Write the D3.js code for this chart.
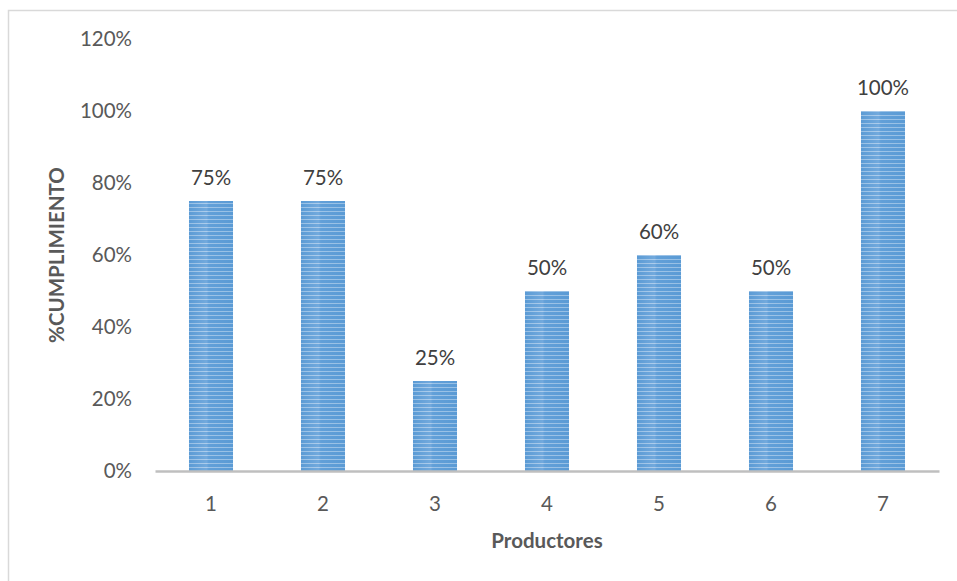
<!DOCTYPE html>
<html>
<head>
<meta charset="utf-8">
<script src="https://cdn.jsdelivr.net/npm/d3@7"></script>
<style>
  html, body { margin: 0; padding: 0; background: #fff; }
  svg { display: block; font-family: Lato, "Open Sans", sans-serif; }
</style>
</head>
<body>
<svg id="chart" width="957" height="581"></svg>
<script>
// Compliance percentage per producer
const categories = ["1", "2", "3", "4", "5", "6", "7"];
const values = [0.75, 0.75, 0.25, 0.50, 0.60, 0.50, 1.00];
const yTicks = [0, 0.2, 0.4, 0.6, 0.8, 1.0, 1.2];
const xTitle = "Productores";
const yTitle = "%CUMPLIMIENTO";

const FONT = "Lato, 'Open Sans', sans-serif";
const FS = "20.5px";

const svg = d3.select("#chart");
const margin = { left: 155, right: 18, top: 39, bottom: 110 };
const W = 957, H = 581;

// Chart frame
svg.append("path")
  .attr("d", "M8.5,581 V10.5 H957")
  .attr("fill", "none")
  .attr("stroke", "#d9d9d9")
  .attr("stroke-width", 1.5);

const x = d3.scaleBand()
  .domain(categories)
  .range([margin.left, W - margin.right])
  .paddingInner(0.607)
  .paddingOuter(0.3035);

const y = d3.scaleLinear()
  .domain([0, 1.2])
  .range([H - margin.bottom, margin.top]);

// Striped fill for bars
const defs = svg.append("defs");
const grad = defs.append("linearGradient")
  .attr("id", "barShade").attr("x1", 0).attr("x2", 1).attr("y1", 0).attr("y2", 0);
grad.append("stop").attr("offset", "0%").attr("stop-color", "#5b9bd5");
grad.append("stop").attr("offset", "40%").attr("stop-color", "#8fbbe6");
grad.append("stop").attr("offset", "45%").attr("stop-color", "#6aa5dc");
grad.append("stop").attr("offset", "100%").attr("stop-color", "#5b9bd5");

const pat = defs.append("pattern")
  .attr("id", "stripes")
  .attr("patternUnits", "userSpaceOnUse")
  .attr("width", 8).attr("height", 4);
pat.append("rect").attr("width", 8).attr("height", 4).attr("fill", "#5b9bd5");
pat.append("rect").attr("y", 3).attr("width", 8).attr("height", 1).attr("fill", "#c6dcf1");

const bars = svg.append("g");
bars.selectAll("rect.base")
  .data(values)
  .join("rect")
  .attr("class", "base")
  .attr("x", (d, i) => x(categories[i]))
  .attr("width", x.bandwidth())
  .attr("y", d => y(d))
  .attr("height", d => y(0) - y(d))
  .attr("fill", "url(#barShade)");
bars.selectAll("rect.stripe")
  .data(values)
  .join("rect")
  .attr("class", "stripe")
  .attr("x", (d, i) => x(categories[i]))
  .attr("width", x.bandwidth())
  .attr("y", d => y(d))
  .attr("height", d => y(0) - y(d))
  .attr("fill", "url(#stripes)")
  .attr("opacity", 0.55);

// Y axis labels
const yAxis = d3.axisLeft(y)
  .tickValues(yTicks)
  .tickFormat(d3.format(".0%"))
  .tickSize(0)
  .tickPadding(23);
const gy = svg.append("g")
  .attr("transform", `translate(${margin.left},0)`)
  .call(yAxis);
gy.select(".domain").remove();
gy.selectAll("text")
  .attr("fill", "#595959")
  .style("font-size", FS)
  .style("font-family", FONT);

// X axis
const xAxis = d3.axisBottom(x).tickSize(0).tickPadding(25);
const gx = svg.append("g")
  .attr("transform", `translate(0,${y(0)})`)
  .call(xAxis);
gx.select(".domain")
  .attr("stroke", "#bfbfbf")
  .attr("stroke-width", 2.5);
gx.selectAll("text")
  .attr("fill", "#595959")
  .style("font-size", FS)
  .style("font-family", FONT);

// Value labels
svg.append("g").selectAll("text")
  .data(values)
  .join("text")
  .attr("x", (d, i) => x(categories[i]) + x.bandwidth() / 2)
  .attr("y", d => y(d) - 16)
  .attr("text-anchor", "middle")
  .attr("fill", "#404040")
  .style("font-size", FS)
  .text(d => d3.format(".0%")(d));

// Axis titles
svg.append("text")
  .attr("x", (margin.left + W - margin.right) / 2)
  .attr("y", 548)
  .attr("text-anchor", "middle")
  .attr("fill", "#595959")
  .style("font-size", FS)
  .style("font-weight", "bold")
  .text(xTitle);

svg.append("text")
  .attr("transform", `translate(64,${y(0.6)}) rotate(-90)`)
  .attr("text-anchor", "middle")
  .attr("fill", "#595959")
  .style("font-size", FS)
  .style("font-weight", "bold")
  .text(yTitle);
</script>
</body>
</html>
